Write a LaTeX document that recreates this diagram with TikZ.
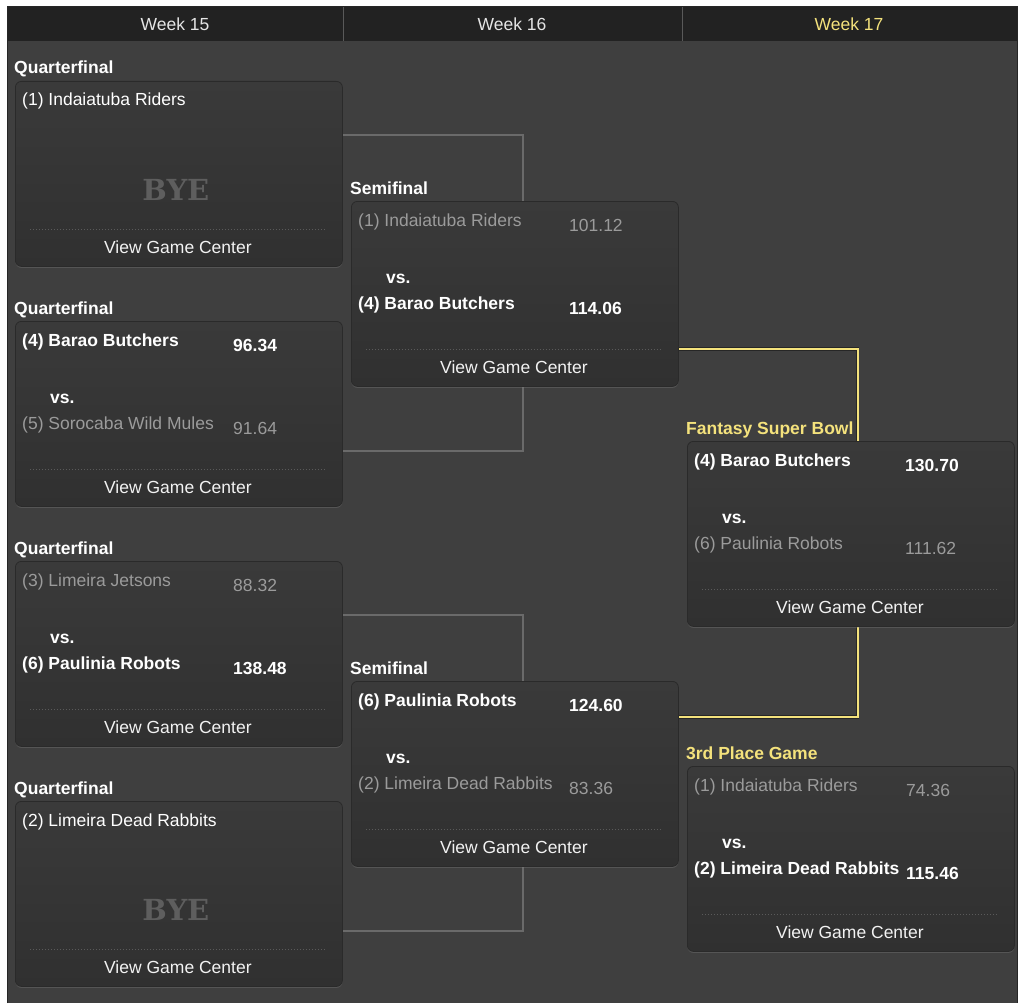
\documentclass[tikz,border=0pt]{standalone}
\usepackage{fontspec}
\setmainfont{Liberation Sans}
\newfontfamily\byefont{DejaVu Serif}
\usetikzlibrary{calc,shadows}

\definecolor{pagebg}{HTML}{3F3F3F}
\definecolor{headbg}{HTML}{222222}
\definecolor{boxtop}{HTML}{3A3A3A}
\definecolor{boxbot}{HTML}{303030}
\definecolor{boxedge}{HTML}{2A2A2A}
\definecolor{losegray}{HTML}{9B9B9B}
\definecolor{linegray}{HTML}{6A6A6A}
\definecolor{dotgray}{HTML}{5A5A5A}
\definecolor{byegray}{HTML}{5E5E5E}
\definecolor{gold}{HTML}{F4E27C}

\pgfdeclarelayer{bg}
\pgfdeclarelayer{back}
\pgfsetlayers{bg,back,main}

\tikzset{
  game/.style={anchor=north west, minimum width=327pt, minimum height=185pt, inner sep=0pt,
    rounded corners=6pt, top color=boxtop, bottom color=boxbot, draw=boxedge, line width=0.8pt,
    drop shadow={opacity=0.35, shadow xshift=0pt, shadow yshift=-1.5pt}},
  winner/.style={anchor=base west, inner sep=0pt, text=white, font=\fontsize{17.5}{20}\selectfont\bfseries},
  loser/.style={anchor=base west, inner sep=0pt, text=losegray, font=\fontsize{17.5}{20}\selectfont},
  plain/.style={anchor=base west, inner sep=0pt, text=white, font=\fontsize{17.5}{20}\selectfont},
  roundlabel/.style={winner},
  week/.style={anchor=base, inner sep=0pt, text=white!90!black, font=\fontsize{17.5}{20}\selectfont},
  viewgc/.style={anchor=base, inner sep=0pt, text=white!95!black, font=\fontsize{17.5}{20}\selectfont},
  bye/.style={anchor=base, inner sep=0pt, text=byegray, font=\fontsize{29}{32}\byefont\bfseries},
  sepline/.style={draw=dotgray, line width=0.8pt, dash pattern=on 0.8pt off 2.2pt},
  bracket/.style={draw=linegray, line width=2pt},
  goldbracket/.style={draw=black!85, line width=0.7pt, double=gold, double distance=1.8pt}
}

\begin{document}
\begin{tikzpicture}[x=1pt, y=-1pt]
    \useasboundingbox (0,0) rectangle (1024,1003);

    % Page and header bar
    \begin{pgfonlayer}{bg}
    \fill[white] (0,0) rectangle (1024,1003);
    \fill[pagebg] (7,41) rectangle (1017,1003);
    \fill[headbg] (7,7) rectangle (1017,41);
    \draw[black!85, line width=1pt] (7,1003) -- (7,7) -- (1017,7) -- (1017,1003);
    \draw[white!35!black, line width=1pt] (343,7) -- (343,41);
    \draw[white!35!black, line width=1pt] (682,7) -- (682,41);
    \end{pgfonlayer}

    % Week headings
    \node[week] (wk15) at (175,31) {Week 15};
    \node[week] (wk16) at (512,31) {Week 16};
    \node[week, text=gold] (wk17) at (849,31) {Week 17};

    % Quarterfinal 1 (bye)
    \node[game] (qfa) at (15,81) {};
    \node[roundlabel] (qfa-lbl) at ($(qfa.north west)+(-1,-7)$) {Quarterfinal};
    \node[plain] (qfa-t1) at ($(qfa.north west)+(7,25)$) {(1) Indaiatuba Riders};
    \node[bye] (qfa-bye) at ($(qfa.north)+(-3,119)$) {BYE};
    \draw[sepline] ($(qfa.north west)+(15,148)$) -- ($(qfa.north east)+(-16,148)$);
    \node[viewgc] (qfa-gc) at ($(qfa.north)+(-1,172)$) {View Game Center};

    % Quarterfinal 2
    \node[game] (qfb) at (15,321) {};
    \node[roundlabel] (qfb-lbl) at ($(qfb.north west)+(-1,-7)$) {Quarterfinal};
    \node[winner] (qfb-t1) at ($(qfb.north west)+(7,25)$) {(4) Barao Butchers};
    \node[winner] (qfb-s1) at ($(qfb.north west)+(218,30)$) {96.34};
    \node[winner] (qfb-vs) at ($(qfb.north west)+(35,82)$) {vs.};
    \node[loser] (qfb-t2) at ($(qfb.north west)+(7,108)$) {(5) Sorocaba Wild Mules};
    \node[loser] (qfb-s2) at ($(qfb.north west)+(218,113)$) {91.64};
    \draw[sepline] ($(qfb.north west)+(15,148)$) -- ($(qfb.north east)+(-16,148)$);
    \node[viewgc] (qfb-gc) at ($(qfb.north)+(-1,172)$) {View Game Center};

    % Quarterfinal 3
    \node[game] (qfc) at (15,561) {};
    \node[roundlabel] (qfc-lbl) at ($(qfc.north west)+(-1,-7)$) {Quarterfinal};
    \node[loser] (qfc-t1) at ($(qfc.north west)+(7,25)$) {(3) Limeira Jetsons};
    \node[loser] (qfc-s1) at ($(qfc.north west)+(218,30)$) {88.32};
    \node[winner] (qfc-vs) at ($(qfc.north west)+(35,82)$) {vs.};
    \node[winner] (qfc-t2) at ($(qfc.north west)+(7,108)$) {(6) Paulinia Robots};
    \node[winner] (qfc-s2) at ($(qfc.north west)+(218,113)$) {138.48};
    \draw[sepline] ($(qfc.north west)+(15,148)$) -- ($(qfc.north east)+(-16,148)$);
    \node[viewgc] (qfc-gc) at ($(qfc.north)+(-1,172)$) {View Game Center};

    % Quarterfinal 4 (bye)
    \node[game] (qfd) at (15,801) {};
    \node[roundlabel] (qfd-lbl) at ($(qfd.north west)+(-1,-7)$) {Quarterfinal};
    \node[plain] (qfd-t1) at ($(qfd.north west)+(7,25)$) {(2) Limeira Dead Rabbits};
    \node[bye] (qfd-bye) at ($(qfd.north)+(-3,119)$) {BYE};
    \draw[sepline] ($(qfd.north west)+(15,148)$) -- ($(qfd.north east)+(-16,148)$);
    \node[viewgc] (qfd-gc) at ($(qfd.north)+(-1,172)$) {View Game Center};

    % Semifinal 1
    \node[game] (sfa) at (351,201) {};
    \node[roundlabel] (sfa-lbl) at ($(sfa.north west)+(-1,-7)$) {Semifinal};
    \node[loser] (sfa-t1) at ($(sfa.north west)+(7,25)$) {(1) Indaiatuba Riders};
    \node[loser] (sfa-s1) at ($(sfa.north west)+(218,30)$) {101.12};
    \node[winner] (sfa-vs) at ($(sfa.north west)+(35,82)$) {vs.};
    \node[winner] (sfa-t2) at ($(sfa.north west)+(7,108)$) {(4) Barao Butchers};
    \node[winner] (sfa-s2) at ($(sfa.north west)+(218,113)$) {114.06};
    \draw[sepline] ($(sfa.north west)+(15,148)$) -- ($(sfa.north east)+(-16,148)$);
    \node[viewgc] (sfa-gc) at ($(sfa.north)+(-1,172)$) {View Game Center};

    % Semifinal 2
    \node[game] (sfb) at (351,681) {};
    \node[roundlabel] (sfb-lbl) at ($(sfb.north west)+(-1,-7)$) {Semifinal};
    \node[winner] (sfb-t1) at ($(sfb.north west)+(7,25)$) {(6) Paulinia Robots};
    \node[winner] (sfb-s1) at ($(sfb.north west)+(218,30)$) {124.60};
    \node[winner] (sfb-vs) at ($(sfb.north west)+(35,82)$) {vs.};
    \node[loser] (sfb-t2) at ($(sfb.north west)+(7,108)$) {(2) Limeira Dead Rabbits};
    \node[loser] (sfb-s2) at ($(sfb.north west)+(218,113)$) {83.36};
    \draw[sepline] ($(sfb.north west)+(15,148)$) -- ($(sfb.north east)+(-16,148)$);
    \node[viewgc] (sfb-gc) at ($(sfb.north)+(-1,172)$) {View Game Center};

    % Fantasy Super Bowl
    \node[game] (final) at (687,441) {};
    \node[roundlabel, text=gold] (final-lbl) at ($(final.north west)+(-1,-7)$) {Fantasy Super Bowl};
    \node[winner] (final-t1) at ($(final.north west)+(7,25)$) {(4) Barao Butchers};
    \node[winner] (final-s1) at ($(final.north west)+(218,30)$) {130.70};
    \node[winner] (final-vs) at ($(final.north west)+(35,82)$) {vs.};
    \node[loser] (final-t2) at ($(final.north west)+(7,108)$) {(6) Paulinia Robots};
    \node[loser] (final-s2) at ($(final.north west)+(218,113)$) {111.62};
    \draw[sepline] ($(final.north west)+(15,148)$) -- ($(final.north east)+(-16,148)$);
    \node[viewgc] (final-gc) at ($(final.north)+(-1,172)$) {View Game Center};

    % 3rd place game
    \node[game] (third) at (687,766) {};
    \node[roundlabel, text=gold] (third-lbl) at ($(third.north west)+(-1,-7)$) {3rd Place Game};
    \node[loser] (third-t1) at ($(third.north west)+(7,25)$) {(1) Indaiatuba Riders};
    \node[loser] (third-s1) at ($(third.north west)+(219,30)$) {74.36};
    \node[winner] (third-vs) at ($(third.north west)+(35,82)$) {vs.};
    \node[winner] (third-t2) at ($(third.north west)+(7,108)$) {(2) Limeira Dead Rabbits};
    \node[winner] (third-s2) at ($(third.north west)+(219,113)$) {115.46};
    \draw[sepline] ($(third.north west)+(15,148)$) -- ($(third.north east)+(-16,148)$);
    \node[viewgc] (third-gc) at ($(third.north)+(-1,172)$) {View Game Center};

    % Bracket lines, drawn behind the game boxes
    \begin{pgfonlayer}{back}
    \draw[bracket] ($(qfa.north east)+(0,54)$) -- ++(180,0) |- ($(qfb.north east)+(0,130)$);
    \draw[bracket] ($(qfc.north east)+(0,54)$) -- ++(180,0) |- ($(qfd.north east)+(0,130)$);
    \draw[goldbracket] ($(sfa.north east)+(0,148)$) -- ++(179,0) |- ($(sfb.north east)+(0,36)$);
    \end{pgfonlayer}

\end{tikzpicture}
\end{document}
